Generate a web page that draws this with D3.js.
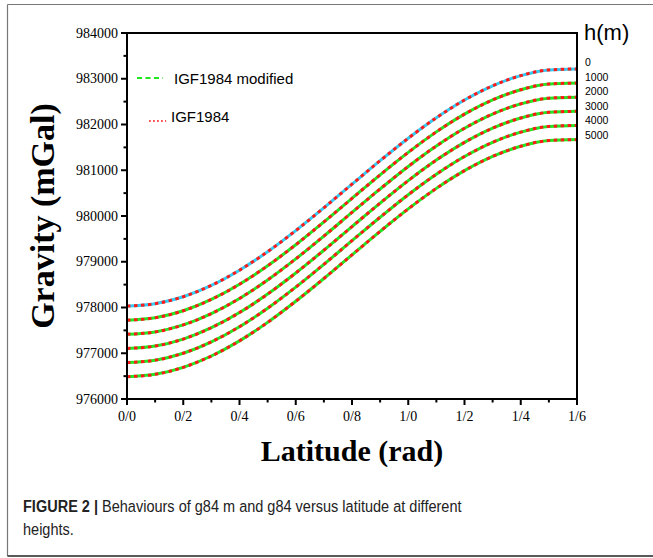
<!DOCTYPE html>
<html><head><meta charset="utf-8">
<script src="https://cdn.jsdelivr.net/npm/d3@7"></script>
<style>body{margin:0;background:#fff}svg{display:block}</style>
</head><body>
<script>
// latitude (rad)
const latitudes = [0,0.1,0.2,0.3,0.4,0.5,0.6,0.7,0.8,0.9,1.0,1.1,1.2,1.3,1.4,1.5,1.6];
const heights = [0,1000,2000,3000,4000,5000];
// gravity (mGal), per height
const g_h0    = [978032,978084,978236,978484,978816,979220,979681,980179,980695,981209,981700,982148,982535,982846,983068,983193,983214];
const g_h1000 = [977724,977775,977928,978176,978507,978911,979372,979870,980386,980900,981391,981839,982226,982537,982759,982884,982905];
const g_h2000 = [977415,977466,977619,977867,978198,978602,979063,979561,980078,980591,981083,981531,981918,982229,982451,982576,982597];
const g_h3000 = [977106,977157,977310,977558,977889,978293,978754,979252,979769,980282,980774,981222,981609,981920,982142,982267,982288];
const g_h4000 = [976797,976848,977001,977249,977580,977984,978445,978943,979460,979973,980465,980913,981300,981611,981833,981958,981979];
const g_h5000 = [976488,976539,976692,976940,977271,977675,978136,978634,979151,979664,980156,980604,980991,981302,981524,981649,981670];
const series = [g_h0,g_h1000,g_h2000,g_h3000,g_h4000,g_h5000];
const yTicks = [976000,977000,978000,979000,980000,981000,982000,983000,984000];
const xTicks = [0,0.2,0.4,0.6,0.8,1.0,1.2,1.4,1.6];
const xTickLabels = ["0/0","0/2","0/4","0/6","0/8","1/0","1/2","1/4","1/6"];
const legendLabels = ["IGF1984 modified","IGF1984"];

const W=653,H=558;
const svg=d3.select("body").append("svg").attr("width",W).attr("height",H);
// frame
svg.append("line").attr("x1",7.5).attr("x2",W).attr("y1",4.5).attr("y2",4.5).attr("stroke","#777").attr("stroke-width",1.2);
svg.append("line").attr("x1",7.5).attr("x2",7.5).attr("y1",4.5).attr("y2",556).attr("stroke","#777").attr("stroke-width",1.2);
svg.append("line").attr("x1",7.5).attr("x2",W).attr("y1",556).attr("y2",556).attr("stroke","#222").attr("stroke-width",1.5);

const L=127,R=577,T=33,B=399;
const x=d3.scaleLinear().domain([0,1.6]).range([L,R]);
const y=d3.scaleLinear().domain([976000,984000]).range([B,T]);

const line=d3.line().x((d,i)=>x(latitudes[i])).y(d=>y(d)).curve(d3.curveMonotoneX);
const gL=svg.append("g");
series.forEach((s,k)=>{
  gL.append("path").attr("d",line(s)).attr("fill","none")
    .attr("stroke",k===0?"#33ccf5":"#22e622").attr("stroke-width",3);
});
series.forEach((s,k)=>{
  gL.append("path").attr("d",line(s)).attr("fill","none")
    .attr("stroke","#ff1a1a").attr("stroke-width",3).attr("stroke-dasharray","3.5,3.5");
});

// axes
const tf="Liberation Serif, Times New Roman, serif";
const xMinor=d3.range(0.1,1.6,0.2);
const yMinor=d3.range(976500,984000,1000);
const ax=svg.append("g");
ax.append("rect").attr("x",L).attr("y",T).attr("width",R-L).attr("height",B-T).attr("fill","none").attr("stroke","#000").attr("stroke-width",2);
xTicks.forEach((t,i)=>{
  ax.append("line").attr("x1",x(t)).attr("x2",x(t)).attr("y1",B).attr("y2",B+6).attr("stroke","#000").attr("stroke-width",2);
  ax.append("text").attr("x",x(t)).attr("y",B+22).attr("text-anchor","middle").attr("font-family",tf).attr("font-size",14).text(xTickLabels[i]);
});
xMinor.forEach(t=>{
  ax.append("line").attr("x1",x(t)).attr("x2",x(t)).attr("y1",B).attr("y2",B+3.5).attr("stroke","#000").attr("stroke-width",2);
});
yTicks.forEach(t=>{
  ax.append("line").attr("x1",L-6).attr("x2",L).attr("y1",y(t)).attr("y2",y(t)).attr("stroke","#000").attr("stroke-width",2);
  ax.append("text").attr("x",L-9).attr("y",y(t)+4.5).attr("text-anchor","end").attr("font-family",tf).attr("font-size",14).text(t);
});
yMinor.forEach(t=>{
  ax.append("line").attr("x1",L-3.5).attr("x2",L).attr("y1",y(t)).attr("y2",y(t)).attr("stroke","#000").attr("stroke-width",2);
});

// axis titles
svg.append("text").attr("x",(L+R)/2).attr("y",461).attr("text-anchor","middle").attr("font-family",tf).attr("font-weight","bold").attr("font-size",30).text("Latitude (rad)");
svg.append("text").attr("transform","translate(54,216) rotate(-90)").attr("text-anchor","middle").attr("font-family",tf).attr("font-weight","bold").attr("font-size",34).text("Gravity (mGal)");

// legend
const sf="Liberation Sans, Arial, sans-serif";
svg.append("line").attr("x1",137).attr("x2",163).attr("y1",78).attr("y2",78).attr("stroke","#22e622").attr("stroke-width",2).attr("stroke-dasharray","5,3.5");
svg.append("text").attr("x",174).attr("y",83.5).attr("font-family",sf).attr("font-size",15).text(legendLabels[0]);
svg.append("line").attr("x1",149).attr("x2",166).attr("y1",121).attr("y2",121).attr("stroke","#ff1a1a").attr("stroke-width",1.6).attr("stroke-dasharray","1.8,2.2");
svg.append("text").attr("x",171).attr("y",122).attr("font-family",sf).attr("font-size",15).text(legendLabels[1]);

// h(m) labels
svg.append("text").attr("x",584).attr("y",40).attr("font-family",sf).attr("font-size",22).text("h(m)");
heights.forEach((h,i)=>{
  svg.append("text").attr("x",585).attr("y",66+i*14.5).attr("font-family",sf).attr("font-size",10.5).text(h);
});

// caption (condensed sans)
const cf="Liberation Sans, Arial, sans-serif";
const cap=svg.append("text").attr("transform","translate(23,512) scale(0.854,1)").attr("font-family",cf).attr("font-size",17).attr("fill","#222");
cap.append("tspan").attr("font-weight","bold").text("FIGURE 2 | ");
cap.append("tspan").text("Behaviours of g84 m and g84 versus latitude at different");
svg.append("text").attr("transform","translate(23,535) scale(0.854,1)").attr("font-family",cf).attr("font-size",17).attr("fill","#222").text("heights.");
</script>
</body></html>
